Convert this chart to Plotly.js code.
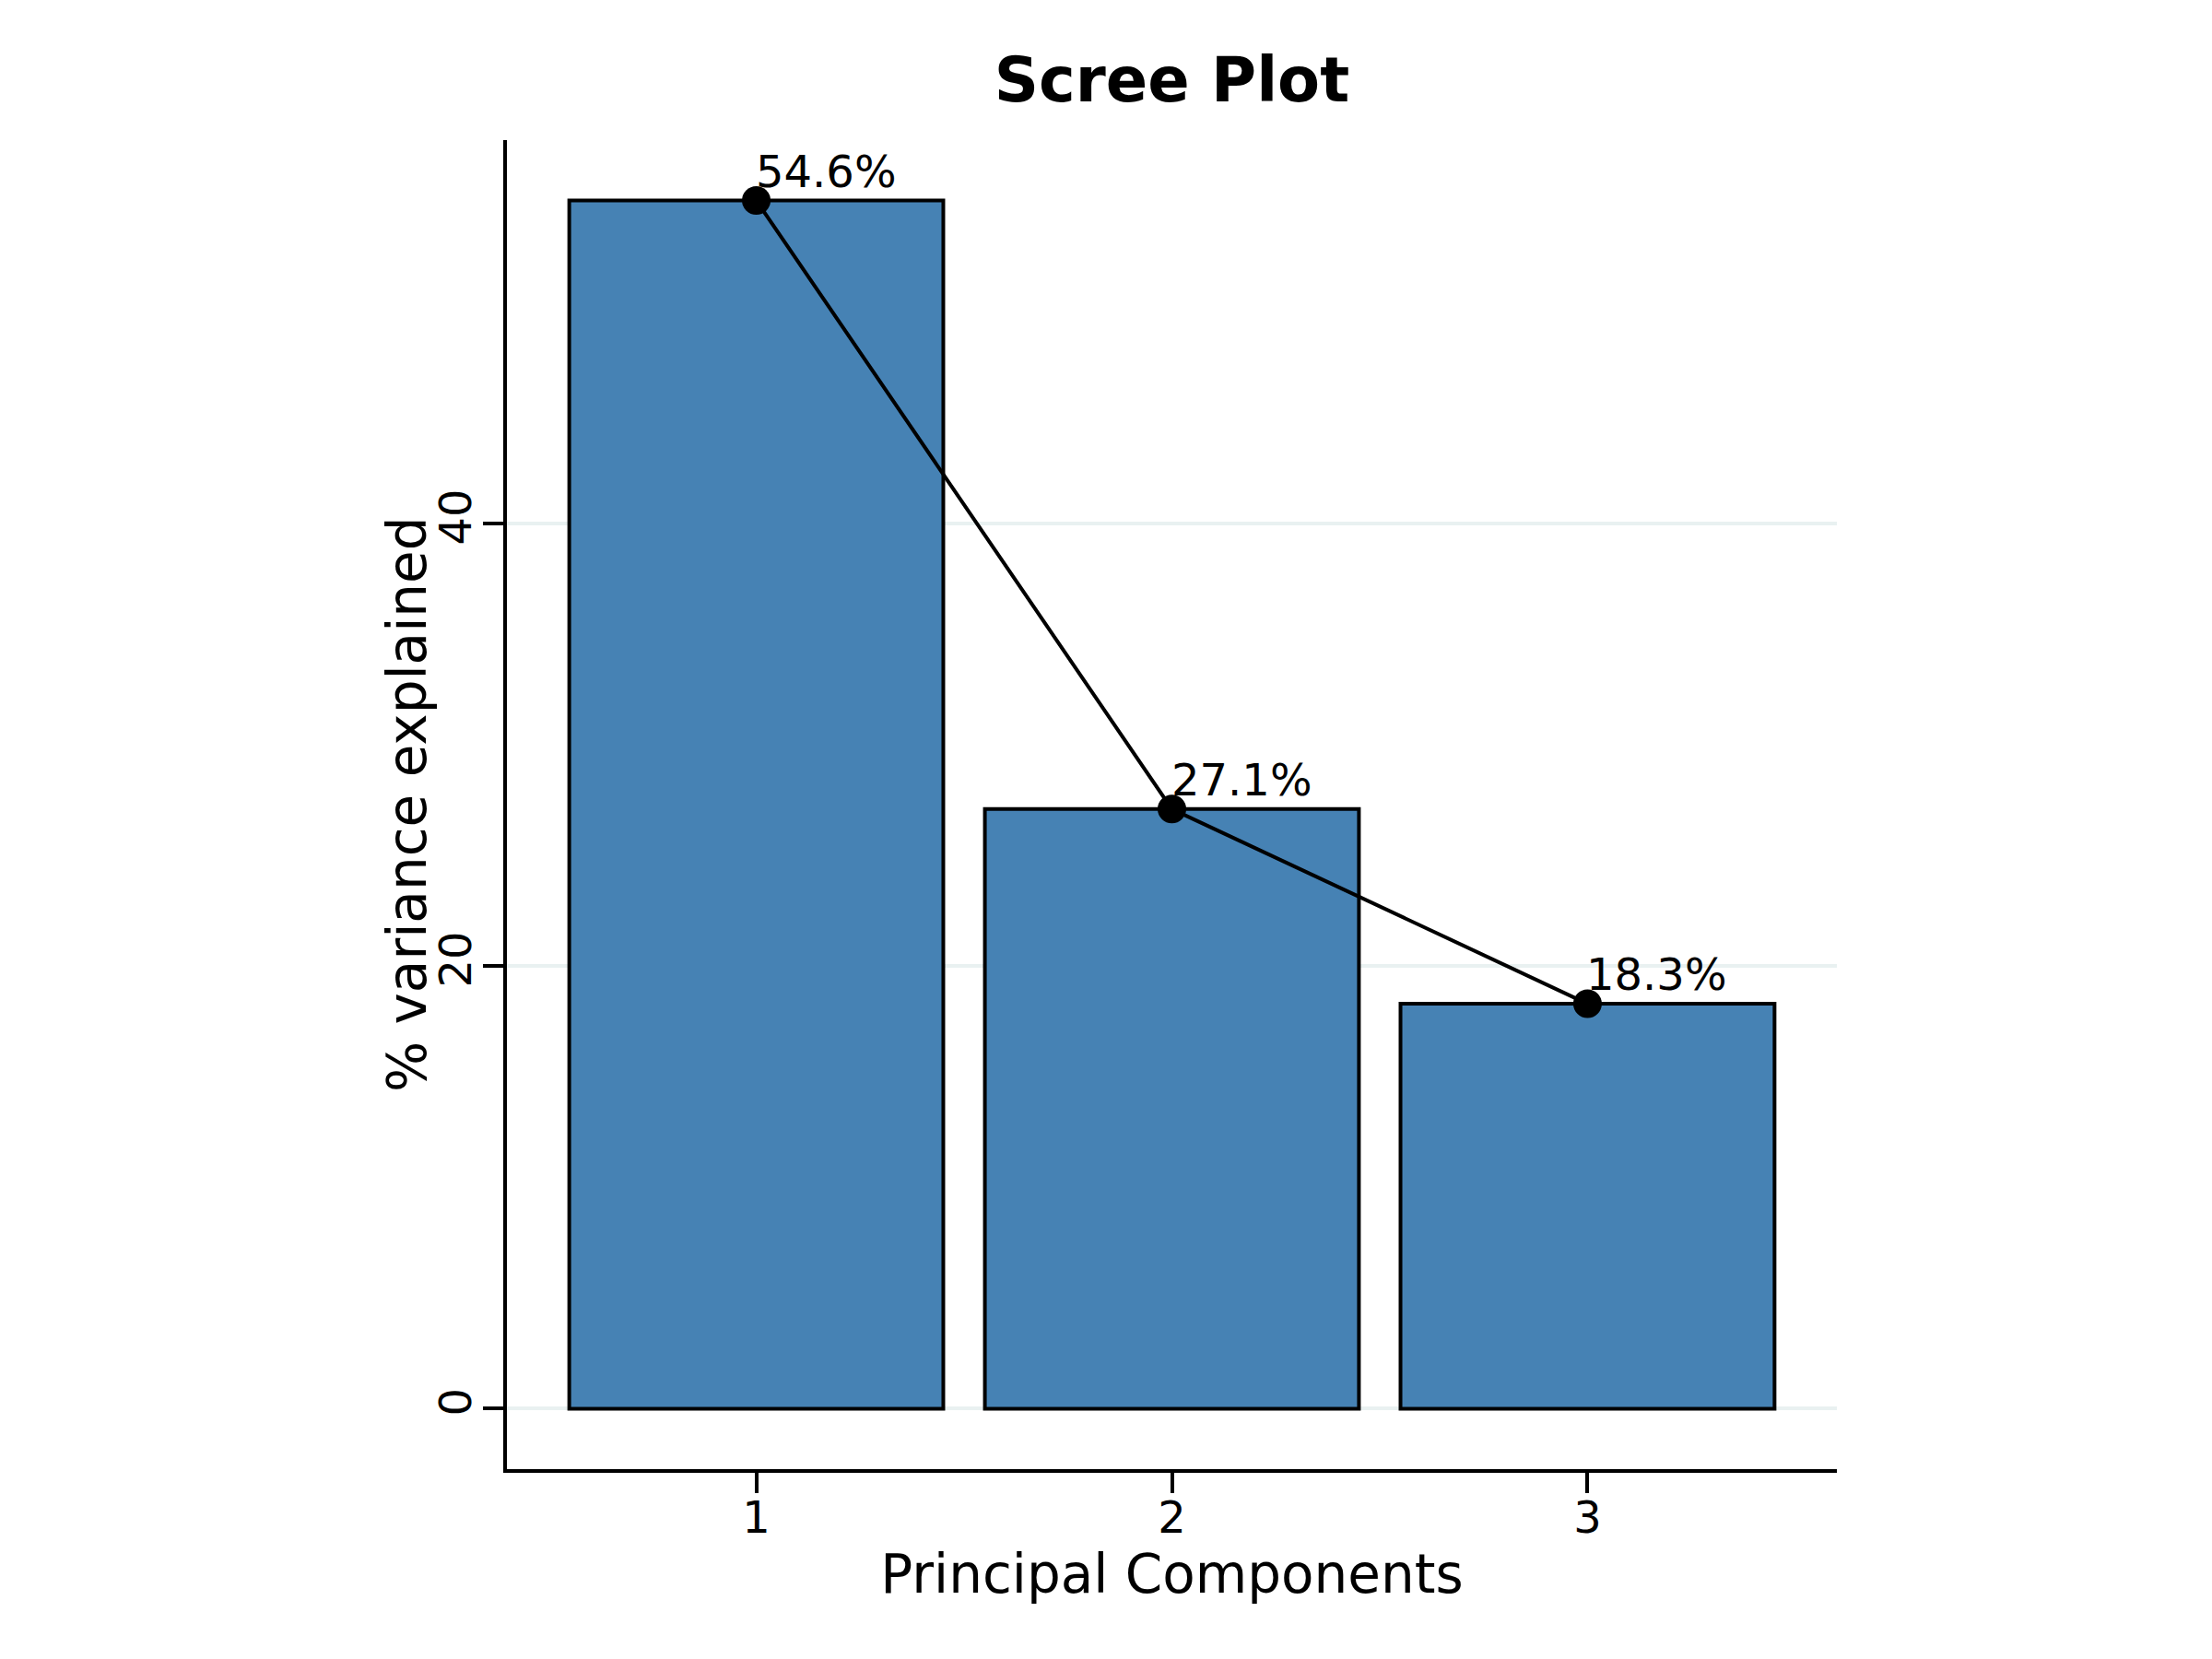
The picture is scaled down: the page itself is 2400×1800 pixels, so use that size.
<!DOCTYPE html>
<html>
<head>
<meta charset="utf-8">
<script src="https://cdn.plot.ly/plotly-3.0.1.min.js"></script>
<style>
body { margin: 0; background: #fff; }
#scree-chart { width: 2400px; height: 1800px; }
</style>
</head>
<body>
<div id="scree-chart"></div>
<script>
const components = [1, 2, 3];
const varianceExplained = [54.6, 27.1, 18.3];
const varianceLabels = ["54.6%", "27.1%", "18.3%"];
const yTicks = [0, 20, 40];

// bars + the line through the bar tops
const data = [
{
x: components,
y: varianceExplained,
type: "bar",
width: 0.9,
marker: {color: "#4682B4", line: {color: "#000000", width: 4}},
hoverinfo: "skip"
},
{
x: components,
y: varianceExplained,
type: "scatter",
mode: "lines+markers",
line: {color: "#000000", width: 4},
marker: {color: "#000000", size: 31},
hoverinfo: "skip"
}
];

// percentage labels next to each point
const labels = components.map((c, i) => ({
x: c,
y: varianceExplained[i],
text: varianceLabels[i],
xanchor: "left",
yanchor: "bottom",
xshift: -3,
yshift: 2,
showarrow: false,
font: {size: 48, color: "#000000"}
}));

// y title as a rotated annotation so it can sit closer to the tick labels
labels.push({
text: "% variance explained",
xref: "paper",
yref: "paper",
x: 0,
y: 0.5,
xanchor: "center",
yanchor: "middle",
xshift: -108,
textangle: -90,
showarrow: false,
font: {size: 58, color: "#000000"}
});

// Define Layout
const layout = {
width: 2400,
height: 1800,
showlegend: false,
paper_bgcolor: "#ffffff",
plot_bgcolor: "#ffffff",
font: {family: "DejaVu Sans", color: "#000000"},
margin: {l: 550, r: 407, t: 152, b: 206},
title: {
text: "<b>Scree Plot</b>",
font: {size: 67, color: "#000000"},
x: 0.5,
xref: "paper",
y: 1 - 87 / 1800,
yref: "container",
yanchor: "middle"
},
xaxis: {
range: [0.4, 3.6],
tickvals: components,
ticktext: components.map(String),
ticks: "outside",
ticklen: 22,
tickwidth: 4,
tickcolor: "#000000",
tickfont: {size: 48},
ticklabelstandoff: -15,
showline: true,
linecolor: "#000000",
linewidth: 4,
showgrid: false,
zeroline: false,
title: {text: "Principal Components", font: {size: 58}, standoff: 6}
},
yaxis: {
range: [-2.73, 57.33],
tickvals: yTicks,
ticktext: yTicks.map(String),
tickangle: -90,
ticks: "outside",
ticklen: 22,
tickwidth: 4,
tickcolor: "#000000",
tickfont: {size: 48},
ticklabelstandoff: -6,
showline: true,
linecolor: "#000000",
linewidth: 4,
showgrid: true,
gridcolor: "#E9F1F1",
gridwidth: 4,
zeroline: false
},
annotations: labels
};

var config = {staticPlot: true}

Plotly.newPlot("scree-chart", data, layout, config);
</script>
</body>
</html>
